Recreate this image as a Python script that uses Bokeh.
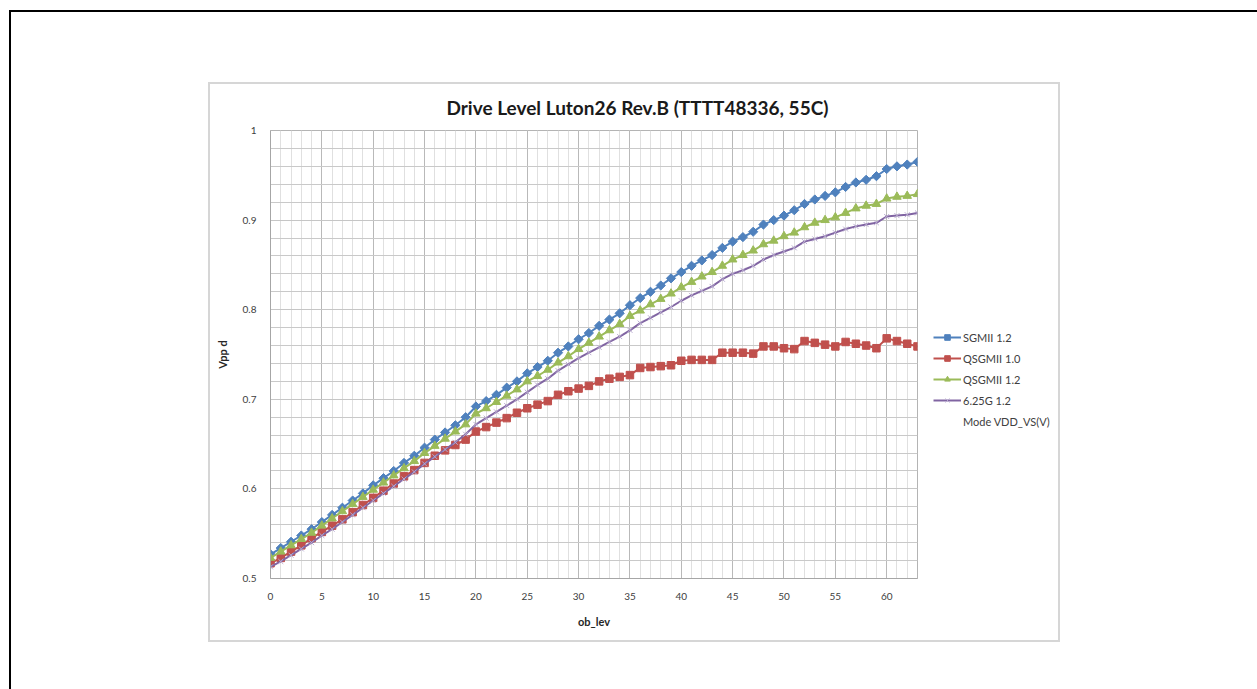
import numpy as np
from bokeh.plotting import figure
from bokeh.models import (Range1d, SingleIntervalTicker, CustomJSTickFormatter,
                          Legend, LegendItem)
from bokeh.embed import file_html
from bokeh.resources import INLINE

# ---------------- data ----------------
ob_lev = list(range(64))

sgmii_12 = [0.527, 0.534, 0.541, 0.548, 0.555, 0.563, 0.571, 0.579, 0.587, 0.595,
            0.604, 0.612, 0.620, 0.629, 0.637, 0.646, 0.655, 0.663, 0.671, 0.680,
            0.692, 0.698, 0.705, 0.713, 0.720, 0.729, 0.736, 0.743, 0.752, 0.759,
            0.767, 0.774, 0.782, 0.789, 0.796, 0.805, 0.813, 0.820, 0.827, 0.835,
            0.842, 0.849, 0.855, 0.861, 0.869, 0.876, 0.881, 0.887, 0.895, 0.900,
            0.905, 0.911, 0.918, 0.923, 0.927, 0.931, 0.937, 0.942, 0.945, 0.949,
            0.957, 0.960, 0.962, 0.965]

qsgmii_10 = [0.517, 0.523, 0.530, 0.537, 0.545, 0.552, 0.559, 0.566, 0.574, 0.582,
             0.590, 0.598, 0.606, 0.614, 0.621, 0.629, 0.637, 0.643, 0.649, 0.655,
             0.664, 0.669, 0.674, 0.679, 0.685, 0.690, 0.694, 0.698, 0.705, 0.709,
             0.712, 0.715, 0.720, 0.723, 0.725, 0.727, 0.735, 0.736, 0.737, 0.738,
             0.743, 0.744, 0.744, 0.744, 0.752, 0.752, 0.752, 0.751, 0.759, 0.759,
             0.757, 0.756, 0.765, 0.763, 0.761, 0.759, 0.764, 0.762, 0.760, 0.757,
             0.768, 0.765, 0.762, 0.759]

qsgmii_12 = [0.523, 0.530, 0.537, 0.544, 0.551, 0.559, 0.567, 0.575, 0.583, 0.591,
             0.599, 0.607, 0.615, 0.623, 0.631, 0.640, 0.648, 0.656, 0.664, 0.672,
             0.684, 0.690, 0.697, 0.704, 0.711, 0.720, 0.726, 0.733, 0.741, 0.748,
             0.756, 0.763, 0.770, 0.777, 0.784, 0.793, 0.799, 0.806, 0.812, 0.818,
             0.825, 0.831, 0.837, 0.842, 0.849, 0.856, 0.861, 0.866, 0.873, 0.877,
             0.882, 0.886, 0.892, 0.897, 0.900, 0.903, 0.908, 0.913, 0.916, 0.918,
             0.924, 0.926, 0.927, 0.929]

g625_12 = [0.513, 0.519, 0.526, 0.533, 0.540, 0.548, 0.555, 0.563, 0.571, 0.579,
           0.587, 0.595, 0.603, 0.611, 0.619, 0.628, 0.636, 0.644, 0.652, 0.661,
           0.672, 0.679, 0.686, 0.693, 0.700, 0.708, 0.716, 0.723, 0.732, 0.739,
           0.746, 0.752, 0.758, 0.764, 0.770, 0.777, 0.785, 0.791, 0.797, 0.803,
           0.810, 0.816, 0.821, 0.826, 0.834, 0.840, 0.844, 0.849, 0.856, 0.861,
           0.865, 0.869, 0.876, 0.879, 0.882, 0.886, 0.890, 0.893, 0.895, 0.897,
           0.904, 0.905, 0.906, 0.908]

series_names = ["SGMII 1.2", "QSGMII 1.0", "QSGMII 1.2", "6.25G 1.2"]
legend_note = "Mode VDD_VS(V)"
title_text = "Drive Level Luton26 Rev.B (TTTT48336, 55C)"
x_label = "ob_lev"
y_label = "Vpp d"

# ---------------- layout ----------------
W, H = 1257, 689
FRAME_L, FRAME_T, FRAME_W, FRAME_H = 270, 130, 647, 448
X0, X1, Y0, Y1 = 0, 63, 0.5, 1.0
FONT = "Lato"

# page decorations drawn as CSS background lines: outer black frame + grey chart box
CH_L, CH_T, CH_R, CH_B = 208, 82, 1060, 642
deco = [  # (color, left, top, width, height)
    ("#000000", 9, 10, W, 2),
    ("#000000", 9, 10, 2, H),
    ("#d6d6d6", CH_L, CH_T, CH_R - CH_L, 2),
    ("#d6d6d6", CH_L, CH_B - 2, CH_R - CH_L, 2),
    ("#d6d6d6", CH_L, CH_T, 2, CH_B - CH_T),
    ("#d6d6d6", CH_R - 2, CH_T, 2, CH_B - CH_T),
]
styles = {
    "background-color": "white",
    "background-image": ", ".join(f"linear-gradient({c}, {c})" for c, *_ in deco),
    "background-size": ", ".join(f"{w}px {h}px" for _, _, _, w, h in deco),
    "background-position": ", ".join(f"{l}px {t}px" for _, l, t, _, _ in deco),
    "background-repeat": "no-repeat",
}

p = figure(frame_width=FRAME_W, frame_height=FRAME_H,
           output_backend="svg", toolbar_location=None,
           x_range=Range1d(X0, X1), y_range=Range1d(Y0, Y1),
           min_border_left=FRAME_L, min_border_top=FRAME_T,
           min_border_right=W - FRAME_L - FRAME_W,
           min_border_bottom=H - FRAME_T - FRAME_H,
           title=title_text, styles=styles)
p.background_fill_color = "white"
p.border_fill_color = None
p.outline_line_color = "#b4b4b4"

p.title.align = "left"
p.title.offset = 176
p.title.standoff = 24
p.title.text_font = FONT
p.title.text_font_size = "19px"
p.title.text_font_style = "bold"
p.title.text_color = "#1a1a1a"

xt = SingleIntervalTicker(interval=5, num_minor_ticks=5)
yt = SingleIntervalTicker(interval=0.1, num_minor_ticks=5)
p.xaxis.ticker = xt
p.yaxis.ticker = yt
p.xgrid.ticker = xt
p.ygrid.ticker = yt
p.xgrid.grid_line_color = "#b9b9b9"
p.xgrid.minor_grid_line_color = "#e0e0e0"
p.ygrid.grid_line_color = "#c6c6c6"
p.ygrid.minor_grid_line_color = "#c9c9c9"

p.yaxis.formatter = CustomJSTickFormatter(code="return Number(tick.toFixed(2)).toString();")
for ax in (p.xaxis[0], p.yaxis[0]):
    ax.axis_line_color = "#a6a6a6"
    ax.major_tick_line_color = None
    ax.minor_tick_line_color = None
    ax.major_tick_out = 0
    ax.major_tick_in = 0
    ax.major_label_text_font = FONT
    ax.major_label_text_font_size = "10px"
    ax.major_label_text_color = "#404040"
    ax.axis_label_text_font = FONT
    ax.axis_label_text_font_size = "11px"
    ax.axis_label_text_font_style = "bold"
    ax.axis_label_text_color = "#262626"
p.xaxis.axis_label = x_label
p.yaxis.axis_label = y_label
p.xaxis.major_label_standoff = 10
p.xaxis.axis_label_standoff = 12
p.yaxis.major_label_standoff = 10
p.yaxis.axis_label_standoff = 11

# ---------------- series ----------------
colors = ["#4F81BD", "#C0504D", "#9BBB59", "#8064A2"]
values = [sgmii_12, qsgmii_10, qsgmii_12, g625_12]
markers = [dict(marker="square", angle=np.pi / 4, size=6.5),
           dict(marker="square", size=7.5),
           dict(marker="triangle", size=8.5),
           dict(marker="x", size=7)]

items = []
for name, col, vals, mk in zip(series_names, colors, values, markers):
    lr = p.line(ob_lev, vals, line_color=col, line_width=2)
    if mk["marker"] == "x":
        sr = p.scatter(ob_lev, vals, line_color="#b9abd0", line_width=1, **mk)
    else:
        sr = p.scatter(ob_lev, vals, fill_color=col, line_color=col, line_width=1, **mk)
    items.append(LegendItem(label=name, renderers=[lr, sr]))

dummy = p.line([X0, X0], [Y0, Y0], line_alpha=0)
items.append(LegendItem(label=legend_note, renderers=[dummy]))

legend = Legend(items=items, location=(16, 150),
                orientation="vertical", border_line_color=None, background_fill_alpha=0,
                padding=0, margin=0, spacing=7, glyph_width=28, glyph_height=14,
                label_height=14, label_standoff=2, label_text_font=FONT,
                label_text_font_size="11px", label_text_color="#404040")
p.add_layout(legend, "right")

open("out.html", "w").write(file_html(p, INLINE))
